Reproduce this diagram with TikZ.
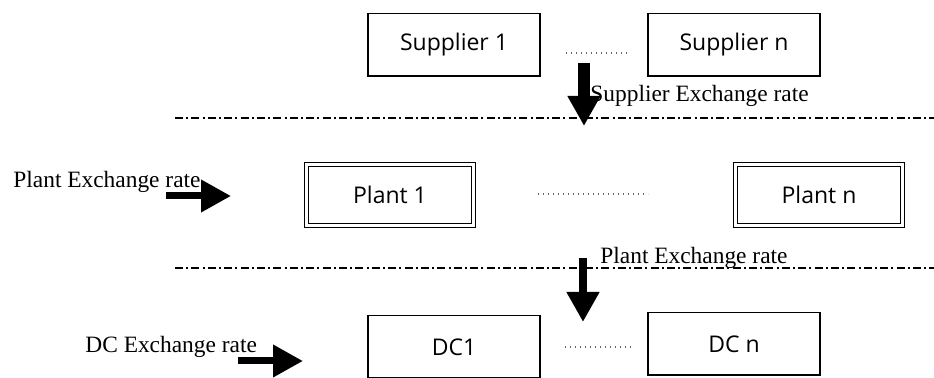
\documentclass[tikz,border=0pt]{standalone}
\usepackage{fontspec}
\setmainfont{Liberation Serif}
\newfontfamily\boxfont{Open Sans}
\usetikzlibrary{arrows.meta}
\tikzstyle{stagebox}=[draw,line width=0.8pt,minimum width=85.8pt,minimum height=31.3pt,inner sep=0pt,font=\boxfont\fontsize{11.5}{13}\selectfont]
\tikzstyle{plantbox}=[stagebox,line width=0.65pt,double,double distance=1.4pt,minimum width=83.4pt,minimum height=30.4pt]
\tikzstyle{ratelabel}=[inner sep=0pt,anchor=base west,font=\fontsize{11.7}{14}\selectfont]
\tikzstyle{tierline}=[draw,line width=0.7pt,dash pattern=on 4pt off 1.6pt on 1pt off 1.6pt]
\tikzstyle{gapdots}=[draw,line width=0.7pt,dash pattern=on 0.7pt off 1.8pt,black!60]
\tikzstyle{downarrow}=[draw,line width=6pt,-{Triangle[length=15pt,width=15.5pt]}]
\tikzstyle{rightarrow}=[draw,line width=3.5pt,-{Triangle[length=15pt,width=15.5pt]}]

\begin{document}
\begin{tikzpicture}[x=0.5pt,y=-0.5pt]
    \useasboundingbox (0,0) rectangle (934,378);

    % the three tiers of boxes
    \foreach \pos/\name/\label in {{(454,45)/S1/Supplier 1}, {(734,45)/Sn/Supplier n}, {(454,347)/D1/DC1}, {(734,344)/Dn/DC n}}
        \node[stagebox] (\name) at \pos {\label};
    \foreach \pos/\name/\label in {{(390,195)/P1/Plant 1}, {(819,195)/Pn/Plant n}}
        \node[plantbox] (\name) at \pos {\label};

    % dots between first and last box
    \foreach \from/\to in {{(566,53)/(628,53)}, {(538,194)/(648,194)}, {(565,347)/(632,347)}}
        \path[gapdots] \from -- \to;

    % tier separators
    \coordinate (t1a) at (175,118);
    \coordinate (t1b) at (934,118);
    \coordinate (t2a) at (175,268);
    \coordinate (t2b) at (934,268);
    \path[tierline] (t1a) -- (t1b);
    \path[tierline] (t2a) -- (t2b);

    % exchange rate labels
    \node[ratelabel] (supRate) at (590,102) {Supplier Exchange rate};
    \node[ratelabel] (plantRate) at (13,188) {Plant Exchange rate};
    \node[ratelabel] (plantRate2) at (600,264) {Plant Exchange rate};
    \node[ratelabel] (dcRate) at (85,353) {DC Exchange rate};

    % the rate arrows
    \coordinate (a1s) at (584,63);
    \coordinate (a1e) at (584,126);
    \coordinate (a2s) at (166,196);
    \coordinate (a2e) at (231,196);
    \coordinate (a3s) at (583,258);
    \coordinate (a3e) at (583,322);
    \coordinate (a4s) at (238,361);
    \coordinate (a4e) at (303,361);
    \path[downarrow] (a1s) -- (a1e);
    \path[rightarrow] (a2s) -- (a2e);
    \path[downarrow,line width=4pt] (a3s) -- (a3e);
    \path[rightarrow] (a4s) -- (a4e);
\end{tikzpicture}
\end{document}
